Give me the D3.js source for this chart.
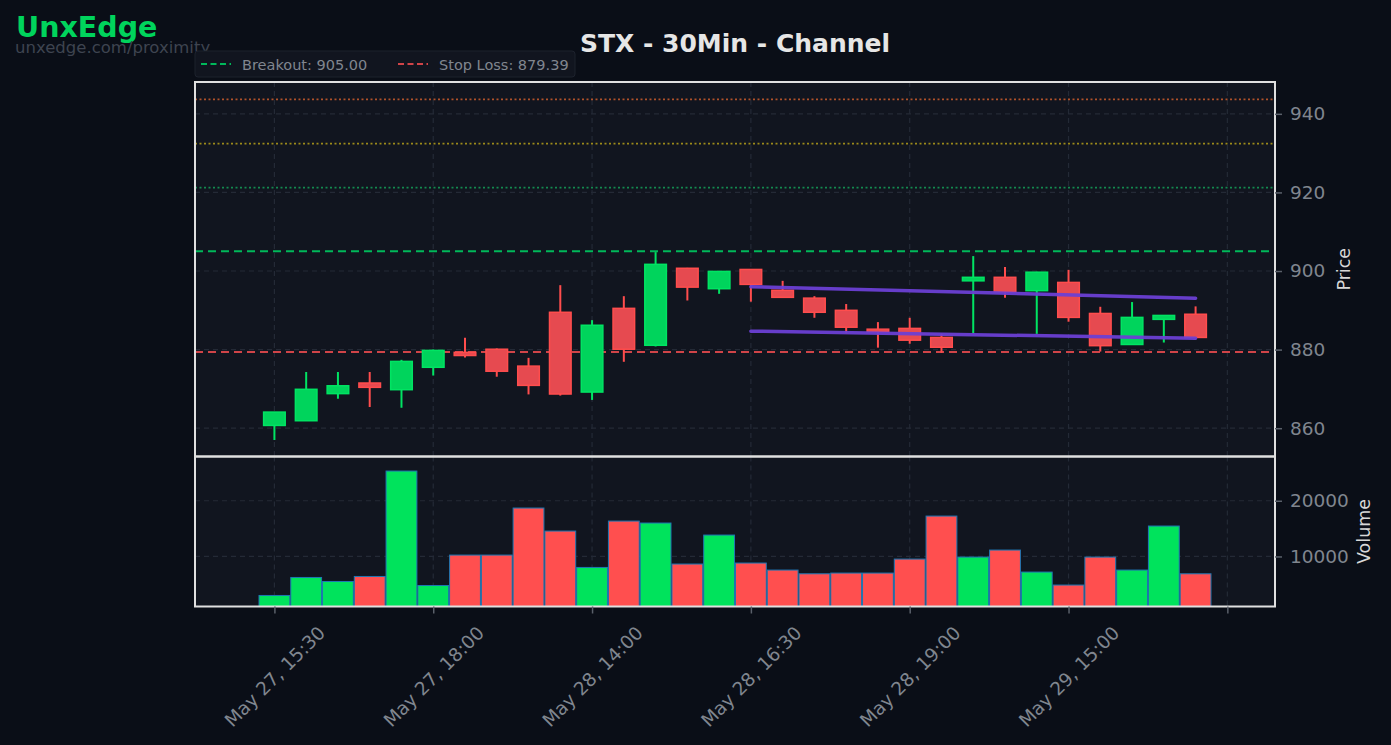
<!DOCTYPE html>
<html>
<head>
<meta charset="utf-8">
<script src="https://cdn.jsdelivr.net/npm/d3@7"></script>
<style>
  body { margin: 0; background: #0a0e17; }
  svg { display: block; font-family: "DejaVu Sans", sans-serif; }
</style>
</head>
<body>
<svg id="chart" width="1391" height="745"></svg>
<script>
(function(){
    "use strict";

    // candles (30 min bars)
    var tickLabels = ["May 27, 15:30", "May 27, 18:00", "May 28, 14:00", "May 28, 16:30", "May 28, 19:00", "May 29, 15:00", ""];
    var tickIndex = [0, 5, 10, 15, 20, 25, 30];

    var opens  = [860.7, 861.9, 868.8, 871.5, 869.8, 875.5, 879.3, 880.1, 875.8, 889.5, 869.2, 890.5, 881.1, 900.7, 895.5,
                  900.4, 895.1, 893.1, 890.0, 885.2, 885.4, 883.1, 897.5, 898.4, 895.0, 897.1, 889.2, 881.3, 887.7, 889.0];
    var highs  = [864.1, 874.3, 874.3, 874.3, 877.4, 880.0, 883.0, 880.3, 877.9, 896.4, 887.5, 893.6, 904.8, 900.8, 900.0,
                  900.5, 897.5, 893.6, 891.6, 887.0, 888.1, 884.0, 903.8, 901.0, 899.8, 900.3, 890.9, 892.1, 888.8, 891.0];
    var lows   = [857.0, 861.9, 867.5, 865.4, 865.2, 873.4, 878.0, 873.1, 868.6, 868.3, 867.2, 876.9, 880.8, 892.5, 894.2,
                  892.2, 893.2, 888.1, 884.2, 880.5, 881.5, 879.2, 884.2, 893.2, 884.0, 887.1, 879.5, 881.2, 881.8, 883.0];
    var closes = [864.1, 869.9, 870.8, 870.4, 877.0, 879.8, 878.5, 874.5, 870.9, 868.7, 886.2, 880.1, 901.7, 895.9, 899.9,
                  896.6, 893.3, 889.5, 885.7, 884.6, 882.4, 880.6, 898.4, 894.7, 899.7, 888.2, 881.0, 888.2, 888.7, 883.1];
    var volumes = [3000, 6230, 5510, 6410, 25330, 4790, 10250, 10250, 18690, 14560, 8030, 16350, 16000, 8640, 13840,
                   8820, 7560, 6890, 7020, 7020, 9530, 17250, 9890, 11150, 7200, 4870, 9890, 7560, 15460, 6890];

    // levels
    var breakout = 905.00;
    var stopLoss = 879.39;
    var targets = [921.2, 932.4, 943.7];
    var targetColors = ["#14894f", "#9c8a1a", "#b0522a"];

    // channel
    var channelIdx = [15, 29];
    var upperChannel = [896.0, 893.1];
    var lowerChannel = [884.7, 882.9];

    var priceTicks = [860, 880, 900, 920, 940];
    var volumeTicks = [10000, 20000];

    var left = 195, right = 1275, top = 82, mid = 456.5, bottom = 606.5;
    var green = "#00d45c", greenEdge = "#00e463", red = "#e64a50", redEdge = "#ff4d4d";

    var svg = d3.select("#chart");

    var x = d3.scaleLinear().domain([-2.5, 31.5]).range([left, right]);
    var y = d3.scaleLinear().domain([852.8, 948.1]).range([mid, top]);
    var yv = d3.scaleLinear().domain([1020, 27940]).range([bottom, mid]);
    var step = x(1) - x(0);

    // panel backgrounds
    svg.append("rect").attr("x", left).attr("y", top).attr("width", right - left).attr("height", mid - top).attr("fill", "#11151f");
    svg.append("rect").attr("x", left).attr("y", mid).attr("width", right - left).attr("height", bottom - mid).attr("fill", "#11151f");

    // grid
    var grid = svg.append("g").attr("stroke", "#242a36").attr("stroke-width", 1.2).attr("stroke-dasharray", "5,4");
    grid.selectAll(".gy").data(priceTicks).enter().append("line")
        .attr("x1", left).attr("x2", right).attr("y1", function(d){ return y(d); }).attr("y2", function(d){ return y(d); });
    grid.selectAll(".gv").data(volumeTicks).enter().append("line")
        .attr("x1", left).attr("x2", right).attr("y1", function(d){ return yv(d); }).attr("y2", function(d){ return yv(d); });
    grid.selectAll(".gx").data(tickIndex).enter().append("line")
        .attr("x1", function(d){ return x(d); }).attr("x2", function(d){ return x(d); }).attr("y1", top).attr("y2", mid);
    grid.selectAll(".gx2").data(tickIndex).enter().append("line")
        .attr("x1", function(d){ return x(d); }).attr("x2", function(d){ return x(d); }).attr("y1", mid).attr("y2", bottom);

    // target lines (dotted)
    svg.selectAll(".target").data(targets).enter().append("line")
        .attr("x1", left).attr("x2", right)
        .attr("y1", function(d){ return y(d); }).attr("y2", function(d){ return y(d); })
        .attr("stroke", function(d, i){ return targetColors[i]; })
        .attr("stroke-width", 1.8).attr("stroke-dasharray", "2,2.5");

    // breakout / stop loss
    svg.append("line").attr("x1", left).attr("x2", right).attr("y1", y(breakout)).attr("y2", y(breakout))
        .attr("stroke", "#00b85a").attr("stroke-width", 2).attr("stroke-dasharray", "8,5");
    svg.append("line").attr("x1", left).attr("x2", right).attr("y1", y(stopLoss)).attr("y2", y(stopLoss))
        .attr("stroke", "#d04448").attr("stroke-width", 2).attr("stroke-dasharray", "8,5");

    var idx = d3.range(opens.length);

    // wicks
    svg.selectAll(".wick").data(idx).enter().append("line")
        .attr("x1", function(i){ return x(i); }).attr("x2", function(i){ return x(i); })
        .attr("y1", function(i){ return y(highs[i]); }).attr("y2", function(i){ return y(lows[i]); })
        .attr("stroke", function(i){ return closes[i] >= opens[i] ? greenEdge : redEdge; })
        .attr("stroke-width", 2);

    // bodies
    var bw = step * 0.68;
    svg.selectAll(".body").data(idx).enter().append("rect")
        .attr("x", function(i){ return x(i) - bw / 2; })
        .attr("y", function(i){ return y(Math.max(opens[i], closes[i])); })
        .attr("width", bw)
        .attr("height", function(i){ return Math.max(1, Math.abs(y(opens[i]) - y(closes[i]))); })
        .attr("fill", function(i){ return closes[i] >= opens[i] ? green : red; })
        .attr("stroke", function(i){ return closes[i] >= opens[i] ? greenEdge : redEdge; })
        .attr("stroke-width", 1.5);

    // channel lines
    var chLine = d3.line().x(function(d){ return x(d[0]); }).y(function(d){ return y(d[1]); });
    [upperChannel, lowerChannel].forEach(function(ch){
        svg.append("path").datum(channelIdx.map(function(c, k){ return [c, ch[k]]; }))
            .attr("d", chLine).attr("fill", "none")
            .attr("stroke", "#6c3fd4").attr("stroke-width", 3.5).attr("stroke-linecap", "round").attr("opacity", 0.95);
    });

    // volume bars
    var vw = step * 0.97;
    svg.selectAll(".vol").data(idx).enter().append("rect")
        .attr("x", function(i){ return x(i) - vw / 2; })
        .attr("y", function(i){ return yv(volumes[i]); })
        .attr("width", vw)
        .attr("height", function(i){ return bottom - yv(volumes[i]); })
        .attr("fill", function(i){ return closes[i] >= opens[i] ? "#00e35c" : "#ff4f4f"; })
        .attr("stroke", "#1f77b4").attr("stroke-width", 1);

    // frames
    svg.append("rect").attr("x", left).attr("y", top).attr("width", right - left).attr("height", mid - top)
        .attr("fill", "none").attr("stroke", "#e0e0e0").attr("stroke-width", 2);
    svg.append("rect").attr("x", left).attr("y", mid).attr("width", right - left).attr("height", bottom - mid)
        .attr("fill", "none").attr("stroke", "#e0e0e0").attr("stroke-width", 2);

    // axes
    var tickColor = "#80868f";
    var yAxis = svg.append("g").attr("transform", "translate(" + right + ",0)")
        .call(d3.axisRight(y).tickValues(priceTicks).tickSize(7).tickPadding(8));
    var vAxis = svg.append("g").attr("transform", "translate(" + right + ",0)")
        .call(d3.axisRight(yv).tickValues(volumeTicks).tickSize(7).tickPadding(8).tickFormat(d3.format("d")));
    var xAxis = svg.append("g").attr("transform", "translate(0," + bottom + ")")
        .call(d3.axisBottom(x).tickValues(tickIndex).tickSize(7).tickFormat(function(d, i){ return tickLabels[i]; }));
    [yAxis, vAxis, xAxis].forEach(function(a){
        a.attr("font-family", "DejaVu Sans").attr("font-size", 18.5);
        a.select(".domain").remove();
        a.selectAll(".tick line").attr("stroke", "#5a606a").attr("stroke-width", 1.5);
        a.selectAll(".tick text").attr("fill", tickColor).attr("font-size", 18.5);
    });
    xAxis.selectAll(".tick text")
        .attr("y", 0).attr("dy", null)
        .attr("text-anchor", "middle").attr("dominant-baseline", "central")
        .attr("transform", "translate(0,70) rotate(-45)");

    // axis labels
    svg.append("text").attr("transform", "translate(1344," + ((top + mid) / 2) + ") rotate(-90)")
        .attr("text-anchor", "middle").attr("dominant-baseline", "central")
        .attr("fill", "#d8d8d8").attr("font-size", 17.5).text("Price");
    svg.append("text").attr("transform", "translate(1364," + ((mid + bottom) / 2) + ") rotate(-90)")
        .attr("text-anchor", "middle").attr("dominant-baseline", "central")
        .attr("fill", "#d8d8d8").attr("font-size", 17.5).text("Volume");

    // title and branding
    svg.append("text").attr("x", (left + right) / 2).attr("y", 52).attr("text-anchor", "middle")
        .attr("fill", "#e6e6e6").attr("font-size", 25).attr("font-weight", "bold").text("STX - 30Min - Channel");
    svg.append("text").attr("x", 16).attr("y", 37).attr("fill", "#00d45c")
        .attr("font-size", 28.5).attr("font-weight", "bold").text("UnxEdge");
    svg.append("text").attr("x", 15).attr("y", 53).attr("fill", "#3e4450")
        .attr("font-size", 16.5).text("unxedge.com/proximity");

    // legend
    var lg = svg.append("g");
    lg.append("rect").attr("x", 195).attr("y", 51).attr("width", 380).attr("height", 26).attr("rx", 3)
        .attr("fill", "#11151f").attr("stroke", "#1d222d").attr("stroke-width", 1);
    var legendItems = [
        {label: "Breakout: " + breakout.toFixed(2), color: "#00b85a", x: 201},
        {label: "Stop Loss: " + stopLoss.toFixed(2), color: "#d04448", x: 398}
    ];
    legendItems.forEach(function(it){
        lg.append("line").attr("x1", it.x).attr("x2", it.x + 30).attr("y1", 64).attr("y2", 64)
            .attr("stroke", it.color).attr("stroke-width", 2).attr("stroke-dasharray", "6,3.5");
        lg.append("text").attr("x", it.x + 41).attr("y", 69.5).attr("fill", "#80868f")
            .attr("font-size", 14.5).text(it.label);
    });
})();
</script>
</body>
</html>
